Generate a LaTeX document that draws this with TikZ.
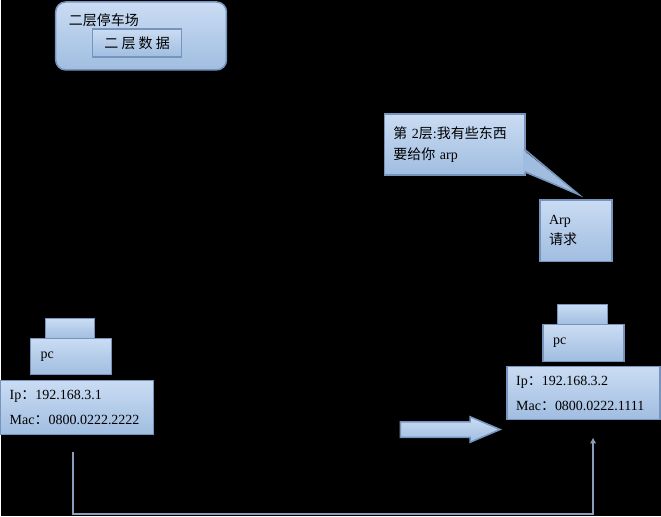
\documentclass[tikz,border=0pt]{standalone}
\usepackage{fontspec}
\setmainfont{Liberation Serif}
\newfontfamily\cjk{Noto Sans CJK SC}
\usetikzlibrary{positioning, arrows.meta, calc, shapes.arrows}
\newlength{\unitpx}
\setlength{\unitpx}{0.75pt}
\definecolor{boxtop}{RGB}{202,220,243}
\definecolor{boxbottom}{RGB}{160,189,224}
\definecolor{boxline}{RGB}{118,148,188}
\definecolor{wireline}{RGB}{138,158,188}

\begin{document}
\begin{tikzpicture}[
    x=\unitpx, y=-\unitpx,
    font=\fontsize{10.5}{18.75}\selectfont,
    bluebox/.style={
        draw=boxline,
        line width=1.5\unitpx,
        top color=boxtop,
        bottom color=boxbottom,
        inner sep=0pt,
        outer sep=0pt
    },
    textbox/.style={
        bluebox,
        align=left,
        inner xsep=9\unitpx
    },
    wire/.style={
        draw=wireline,
        line width=2\unitpx,
        -{Latex[length=4.5pt,width=5pt]}
    }
]
% ============================================================
% BACKGROUND -- fixes the page size
% ============================================================
\fill[black] (0,0) rectangle (661,517);
% ============================================================
% LAYER-2 "PARKING LOT" BOX
% ============================================================
\node[bluebox, rounded corners=10\unitpx, anchor=north west,
    minimum width=171\unitpx, minimum height=68\unitpx]
    at (55,2) (parklot) {};
\node[anchor=west, inner sep=0pt]
    at ($(parklot.north west)+(13,18)$) (parktitle)
    {\cjk 二层停车场};
\node[bluebox, anchor=north west,
    minimum width=89\unitpx, minimum height=28\unitpx]
    at (92,29) (framedata)
    {\cjk 二 层 数 据};
% ============================================================
% SPEECH BUBBLE AND ARP REQUEST
% ============================================================
\node[textbox, anchor=north west, text width=123\unitpx,
    minimum width=141\unitpx, minimum height=61\unitpx]
    at (384,114) (saying)
    {{\cjk 第} 2{\cjk 层}:{\cjk 我有些东西}\\[-4\unitpx]{\cjk 要给你} arp\\[4\unitpx]};
\coordinate (sayingtip) at (579,195);
\coordinate (tailtop) at ($(saying.north east)+(0,36)$);
\coordinate (tailbottom) at ($(saying.south east)+(0,-3)$);
\fill[boxbottom] ($(tailtop)+(-2,0)$) -- (sayingtip) -- ($(tailbottom)+(-2,0)$) -- cycle;
\draw[boxline, line width=1.5\unitpx] (tailtop) -- (sayingtip) -- (tailbottom);
\node[textbox, anchor=north west, text width=54\unitpx,
    minimum width=72\unitpx, minimum height=62\unitpx]
    at (540,200) (arpreq)
    {Arp\\[-5\unitpx]{\cjk 请求}\\[8\unitpx]};
% ============================================================
% LEFT PC
% ============================================================
\node[textbox, anchor=north west, text width=135\unitpx,
    minimum width=153\unitpx, minimum height=54\unitpx]
    at (0,381) (leftinfo)
    {Ip{\cjk ：}192.168.3.1\\Mac{\cjk ：}0800.0222.2222};
\node[textbox, text width=61\unitpx,
    minimum width=81\unitpx, minimum height=36\unitpx,
    above=6\unitpx of leftinfo, xshift=-6\unitpx] (leftpc)
    {pc};
\node[bluebox, minimum width=49\unitpx, minimum height=20\unitpx,
    above=0pt of leftpc, xshift=-1\unitpx] (leftscreen) {};
% ============================================================
% RIGHT PC
% ============================================================
\node[textbox, anchor=north west, text width=135\unitpx,
    minimum width=153\unitpx, minimum height=53\unitpx]
    at (507,367) (rightinfo)
    {Ip{\cjk ：}192.168.3.2\\Mac{\cjk ：}0800.0222.1111};
\node[textbox, text width=61\unitpx,
    minimum width=81\unitpx, minimum height=37\unitpx,
    above=5\unitpx of rightinfo] (rightpc)
    {pc};
\node[bluebox, minimum width=50\unitpx, minimum height=20\unitpx,
    above=0pt of rightpc, xshift=-1\unitpx] (rightscreen) {};
% ============================================================
% BLOCK ARROW AND WIRE
% ============================================================
\node[bluebox, single arrow, inner ysep=7\unitpx,
    single arrow head extend=5\unitpx,
    single arrow tip angle=46,
    minimum height=100\unitpx, minimum width=24\unitpx,
    anchor=west]
    at (400,430) (sendarrow) {};
\coordinate (wirestart) at (72,453);
\coordinate (wirecorner) at (72,515);
\coordinate (wireend) at (593,438);
\draw[wire] (wirestart) -- (wirecorner) -| (wireend);
\end{tikzpicture}
\end{document}
